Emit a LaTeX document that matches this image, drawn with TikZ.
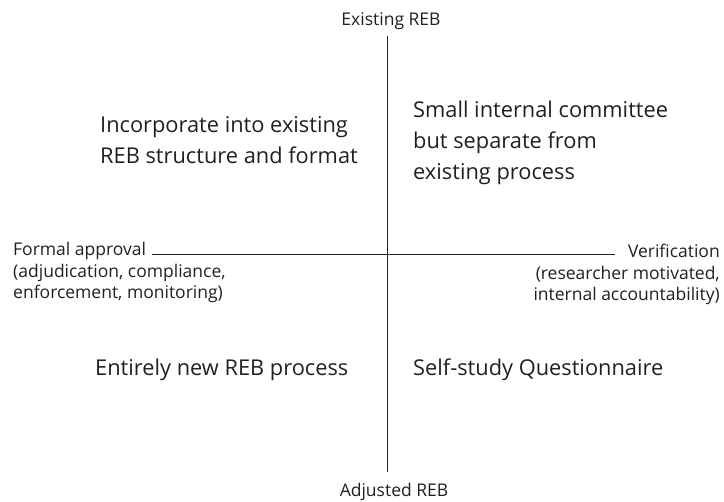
\documentclass[tikz,border=0pt]{standalone}
\usepackage{fontspec}
\setmainfont{Open Sans}
\usepackage{tikz}
\usetikzlibrary{positioning}

\definecolor{ink}{RGB}{35,31,32}

\begin{document}
\begin{tikzpicture}[x=1pt,y=-1pt]
	\tikzstyle{every node}=[inner sep=0pt,text=ink]
	\tikzstyle{axis}=[font=\fontsize{17.5}{21.5}\selectfont]
	\tikzstyle{quad}=[font=\fontsize{21.8}{31}\selectfont,align=left,anchor=base west]
	\useasboundingbox (0,0) rectangle (724,502);
	% axis labels
	\node[axis,anchor=base] (top) at (391,26) {Existing REB};
	\node[axis,anchor=base] (bottom) at (394,497) {Adjusted REB};
	\node[axis,anchor=base west,align=left] (left) at (13,299) {Formal approval\\(adjudication, compliance,\\enforcement, monitoring)};
	\node[axis,anchor=base east,align=right] (right) at (720,301) {Verification\\(researcher motivated,\\internal accountability)};
	\coordinate (n) at (387,36);
	\coordinate (s) at (387,472);
	\coordinate (w) at (152,254);
	\coordinate (e) at (615,254);
	\draw[ink,line width=0.8pt] (n) -- (s);
	\draw[ink,line width=0.8pt] (w) -- (e);
	% quadrants
	\node[quad] (q2) at (100,164) {Incorporate into existing\\REB structure and format};
	\node[quad] (q1) at (413,180) {Small internal committee\\but separate from\\existing process};
	\node[quad] (q3) at (95,376) {Entirely new REB process};
	\node[quad] (q4) at (413,376) {Self-study Questionnaire};
\end{tikzpicture}
\end{document}
